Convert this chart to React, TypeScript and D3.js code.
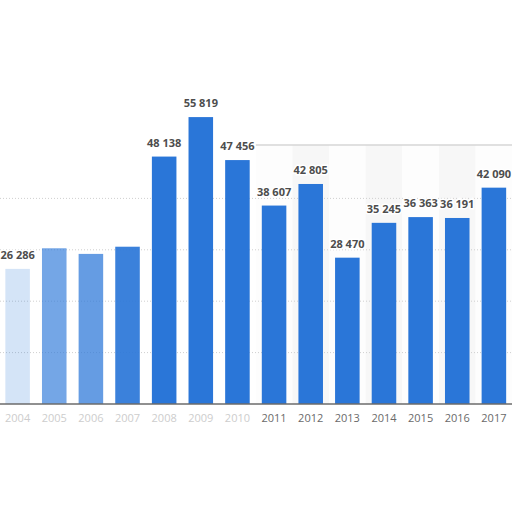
import * as d3 from "d3";
import React from "react";

const years = [
  "2004", "2005", "2006", "2007", "2008", "2009", "2010",
  "2011", "2012", "2013", "2014", "2015", "2016", "2017",
];
const values = [
  26286, 30300, 29200, 30600, 48138, 55819, 47456,
  38607, 42805, 28470, 35245, 36363, 36191, 42090,
];
const gridTicks = [10000, 20000, 30000, 40000];

// the left part of the source picture is washed out
const fade: Record<string, number> = {
  "2004": 0.2,
  "2005": 0.65,
  "2006": 0.72,
  "2007": 0.92,
};
const fadedLabels = ["2004", "2005", "2006", "2007", "2008", "2009", "2010"];
const hiddenValueLabels = ["2005", "2006", "2007"];

const fmt = (v: number) => d3.format(",")(v).replace(/,/g, " ");

export default function App() {
  const width = 512;
  const height = 512;
  const baseline = 404;
  const plotTop = 145;

  const x = d3.scaleBand().domain(years).range([-6.75, 518.25]).padding(0.33);
  const y = d3.scaleLinear().domain([0, 60000]).range([baseline, 95.6]);
  const step = x.step();
  const bandStart = years.indexOf("2011");

  return (
    <div style={{ position: "fixed", left: 0, top: 0 }}>
      <svg width={width} height={height} style={{ display: "block", background: "#fff" }}>
        {/* alternating column bands (only the clear right part) */}
        {years.map((yr, i) =>
          i < bandStart ? null : (
            <rect
              key={`band-${yr}`}
              x={(x(yr) || 0) - (step - x.bandwidth()) / 2}
              y={plotTop}
              width={step}
              height={baseline - plotTop}
              fill={i % 2 === 0 ? "#f7f7f7" : "#fdfdfd"}
            />
          )
        )}
        <line
          x1={(x(years[bandStart]) || 0) - (step - x.bandwidth()) / 2}
          x2={width}
          y1={plotTop}
          y2={plotTop}
          stroke="#d6d6d6"
          strokeWidth={1.5}
        />

        {gridTicks.map((t) => (
          <line
            key={`grid-${t}`}
            x1={0}
            x2={width}
            y1={y(t)}
            y2={y(t)}
            stroke="#cfcfcf"
            strokeDasharray="1,2"
          />
        ))}

        {years.map((yr, i) => (
          <rect
            key={`bar-${yr}`}
            x={x(yr)}
            y={y(values[i])}
            width={x.bandwidth()}
            height={baseline - y(values[i])}
            fill="#2a76d8"
            opacity={fade[yr] ?? 1}
          />
        ))}

        <line x1={0} x2={width} y1={baseline} y2={baseline} stroke="#6b6b6b" strokeWidth={1.5} />

        {years.map((yr, i) =>
          hiddenValueLabels.includes(yr) ? null : (
            <text
              key={`val-${yr}`}
              x={(x(yr) || 0) + x.bandwidth() / 2}
              y={y(values[i]) - 10}
              textAnchor="middle"
              fontFamily="'Open Sans', sans-serif"
              fontWeight={700}
              fontSize={11}
              fill="#4d4d4d"
              stroke="#fff"
              strokeWidth={3}
              paintOrder="stroke"
            >
              {fmt(values[i])}
            </text>
          )
        )}

        {years.map((yr) => (
          <text
            key={`tick-${yr}`}
            x={(x(yr) || 0) + x.bandwidth() / 2}
            y={422}
            textAnchor="middle"
            fontFamily="'Open Sans', sans-serif"
            fontSize={11}
            fill={fadedLabels.includes(yr) ? "#cdcdcd" : "#6a6a6a"}
          >
            {yr}
          </text>
        ))}
      </svg>
    </div>
  );
}
